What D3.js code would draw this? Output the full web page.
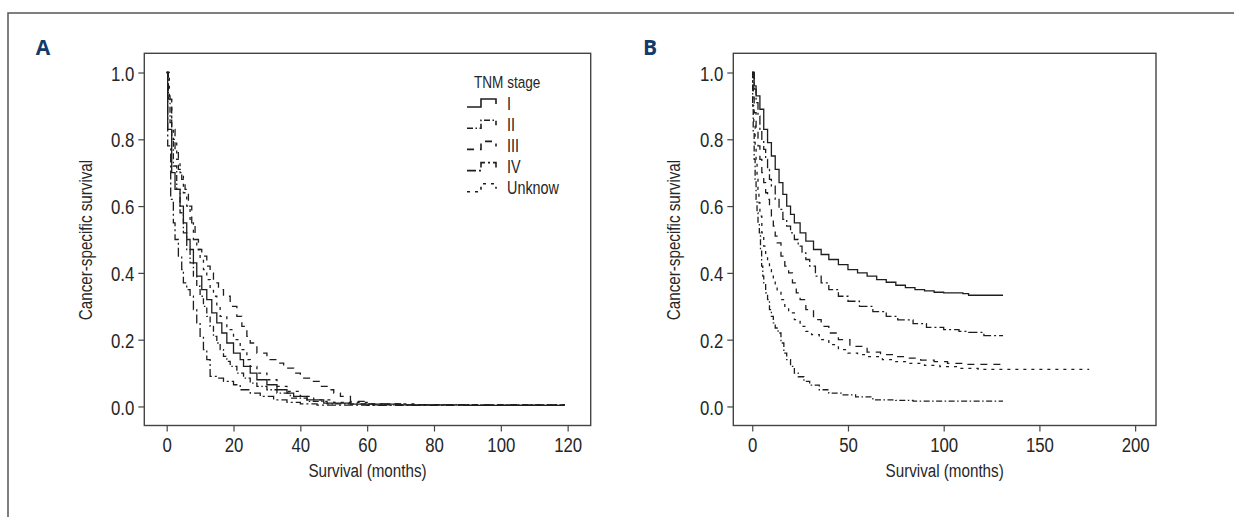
<!DOCTYPE html>
<meta charset="utf-8">
<script src="https://d3js.org/d3.v7.min.js"></script>
<style>
  body { margin: 0; background: #fff; }
  text { font-family: "Liberation Sans", Arial, sans-serif; fill: #262626; }
</style>
<div id="chart"></div>
<script>
// ---- data: [months, survival] step points ----
// Panel A (TNM stage)
var a_I      = [[0,1],[0.3,0.83],[1.5,0.70],[2.5,0.65],[4,0.60],[5,0.55],[6,0.50],[7,0.47],[8,0.43],[9,0.39],[10.5,0.35],[12,0.32],[13.5,0.28],[15,0.25],[16.5,0.22],[18,0.19],[20,0.16],[22,0.14],[23,0.12],[25,0.10],[27,0.08],[30,0.065],[33,0.05],[36,0.04],[38,0.03],[42,0.02],[47,0.01],[55,0.007],[70,0.005],[90,0.003],[119,0.003]];
var a_II     = [[0,1],[0.5,0.93],[1,0.85],[1.5,0.80],[2,0.72],[3,0.65],[4,0.58],[5,0.52],[6,0.47],[7,0.43],[8,0.39],[9,0.36],[10,0.33],[11,0.30],[12,0.27],[13,0.24],[14,0.21],[15,0.19],[16,0.17],[17,0.15],[18,0.135],[19,0.12],[21,0.10],[23,0.085],[25,0.07],[27,0.06],[30,0.05],[33,0.04],[37,0.025],[42,0.015],[48,0.008],[60,0.005],[119,0.003]];
var a_III    = [[0,1],[0.5,0.92],[1.5,0.83],[2.5,0.76],[3.5,0.71],[4.5,0.68],[5.5,0.65],[6.5,0.60],[7.5,0.55],[8.5,0.50],[9.5,0.47],[10.5,0.45],[12,0.42],[13,0.40],[14,0.37],[15.5,0.35],[17,0.33],[19,0.30],[21,0.27],[22.5,0.24],[24,0.21],[25,0.19],[27,0.16],[30,0.14],[33,0.13],[35,0.115],[38,0.10],[40,0.085],[43,0.075],[46,0.06],[48,0.05],[50,0.04],[52,0.03],[55,0.015],[60,0.008],[70,0.005],[119,0.003]];
var a_IV     = [[0,1],[0.3,0.78],[1.2,0.62],[2,0.55],[2.5,0.50],[3.5,0.45],[4.5,0.41],[5,0.37],[6,0.35],[7,0.33],[8,0.29],[9,0.25],[10,0.21],[11,0.17],[12,0.14],[13,0.09],[15,0.085],[17,0.075],[20,0.065],[22,0.05],[25,0.04],[28,0.03],[32,0.02],[36,0.012],[40,0.008],[45,0.004],[60,0.003],[119,0.003]];
var a_Unknow = [[0,1],[0.8,0.92],[1.5,0.84],[2,0.80],[3,0.74],[4,0.70],[5,0.64],[6,0.60],[7,0.55],[8,0.50],[9,0.47],[10,0.44],[11,0.41],[12,0.38],[13,0.35],[14,0.33],[15,0.30],[16,0.27],[18,0.23],[20,0.20],[22,0.17],[24,0.14],[25,0.12],[27,0.10],[30,0.08],[33,0.06],[36,0.045],[40,0.03],[44,0.02],[50,0.012],[60,0.008],[75,0.005],[119,0.003]];

// Panel B
var b_1 = [[0,1],[1,0.96],[2,0.93],[4,0.89],[6,0.83],[8,0.79],[10,0.75],[12,0.71],[14,0.67],[16,0.635],[18,0.60],[20,0.575],[22,0.55],[25,0.52],[28,0.495],[32,0.47],[36,0.455],[40,0.44],[45,0.425],[50,0.41],[55,0.40],[60,0.39],[65,0.38],[70,0.372],[75,0.363],[80,0.356],[85,0.35],[90,0.346],[95,0.342],[100,0.34],[110,0.338],[113,0.333],[131,0.333]];
var b_2 = [[0,1],[1,0.95],[2,0.91],[3,0.87],[4,0.83],[5,0.80],[6,0.77],[7,0.74],[8,0.71],[9,0.68],[10,0.66],[12,0.62],[14,0.59],[16,0.56],[18,0.54],[20,0.52],[22,0.50],[24,0.48],[26,0.46],[28,0.44],[30,0.42],[33,0.39],[36,0.37],[40,0.35],[45,0.33],[50,0.315],[56,0.30],[63,0.284],[70,0.27],[76,0.259],[84,0.248],[91,0.237],[100,0.23],[108,0.225],[113,0.222],[121,0.212],[131,0.212]];
var b_3 = [[0,1],[0.5,0.93],[1,0.88],[2,0.83],[3,0.78],[4,0.74],[5,0.70],[6,0.67],[7,0.64],[8,0.62],[9,0.60],[10,0.57],[11,0.54],[12,0.51],[13,0.49],[15,0.45],[17,0.42],[19,0.40],[21,0.37],[23,0.34],[25,0.32],[28,0.29],[32,0.26],[36,0.24],[40,0.22],[45,0.20],[51,0.18],[60,0.163],[67,0.155],[74,0.149],[80,0.145],[88,0.139],[95,0.134],[102,0.129],[110,0.126],[131,0.126]];
var b_4 = [[0,1],[0.3,0.90],[0.8,0.84],[1.5,0.78],[2,0.73],[2.5,0.69],[3,0.65],[3.5,0.61],[4,0.57],[5,0.52],[6,0.48],[7,0.45],[8,0.43],[9,0.41],[10,0.40],[11,0.38],[12,0.36],[13,0.345],[15,0.32],[17,0.30],[19,0.28],[22,0.26],[25,0.24],[28,0.225],[31,0.215],[35,0.20],[40,0.185],[45,0.17],[50,0.16],[55,0.155],[60,0.149],[68,0.14],[75,0.134],[81,0.129],[90,0.123],[98,0.119],[108,0.114],[118,0.111],[176,0.111]];
var b_5 = [[0,1],[0.2,0.90],[0.5,0.82],[1,0.74],[1.5,0.68],[2,0.62],[2.5,0.58],[3,0.55],[3.7,0.52],[4.3,0.47],[4.9,0.42],[5.5,0.39],[6,0.37],[7,0.34],[8,0.32],[9,0.29],[10,0.27],[11,0.25],[12,0.235],[13.5,0.22],[15,0.19],[16.5,0.16],[18,0.14],[20,0.12],[22,0.10],[24,0.089],[27,0.075],[30,0.064],[35,0.05],[40,0.04],[47,0.035],[54,0.029],[63,0.02],[75,0.018],[84,0.016],[131,0.016]];

var stageNames = ["I", "II", "III", "IV", "Unknow"];
var yTicks = [0, 0.2, 0.4, 0.6, 0.8, 1.0];
var xTicksA = [0, 20, 40, 60, 80, 100, 120];
var xTicksB = [0, 50, 100, 150, 200];

// ---- layout ----
var W = 1234, H = 517;
var SX = 0.8; // horizontal squeeze, the original uses a condensed face
var svg = d3.select("#chart").append("svg").attr("width", W).attr("height", H);

// outer frame (top and left only)
svg.append("path").attr("d", "M8,517 V13 H1234")
  .attr("fill", "none").attr("stroke", "#555").attr("stroke-width", 1.5);

var dashes = {
  solid: null,
  dashdot: "6,2.5,1.5,2.5",
  longdash: "7,6",
  dotdash: "9,3,2,3",
  dotted: "3,5"
};

// condensed text helper
function ctext(g, x, y, size, str, anchor, rot) {
  return g.append("text")
    .attr("transform", "translate(" + x + "," + y + ")" + (rot ? " rotate(" + rot + ")" : "") + " scale(" + SX + ",1)")
    .attr("text-anchor", anchor || "start")
    .attr("font-size", size + "px")
    .text(str);
}

function panel(opts) {
  var x = d3.scaleLinear().domain(opts.xDomain).range([opts.left, opts.right]);
  var y = d3.scaleLinear().domain([-0.057, 1.0575]).range([425.5, 53.3]);
  var g = svg.append("g");

  // box
  g.append("rect").attr("x", opts.left).attr("y", 53.3)
    .attr("width", opts.right - opts.left).attr("height", 425.5 - 53.3)
    .attr("fill", "none").attr("stroke", "#444").attr("stroke-width", 1.4);

  var yAxis = g.append("g").attr("transform", "translate(" + opts.left + ",0)")
    .call(d3.axisLeft(y).tickValues(yTicks).tickFormat(d3.format(".1f")).tickSize(6).tickSizeOuter(0));
  var xAxis = g.append("g").attr("transform", "translate(0,425.5)")
    .call(d3.axisBottom(x).tickValues(opts.xTicks).tickFormat(d3.format("d")).tickSize(6).tickSizeOuter(0));
  [yAxis, xAxis].forEach(function (ax) {
    ax.select(".domain").remove();
    ax.selectAll("line").attr("stroke", "#444").attr("stroke-width", 1.2);
    ax.selectAll("text").attr("font-size", "21px").attr("fill", "#262626")
      .style("font-family", "'Liberation Sans', Arial, sans-serif")
      .attr("transform", "scale(" + SX + ",1)");
  });
  yAxis.selectAll("text").attr("x", -10 / SX).attr("dy", "0.36em");
  xAxis.selectAll("text").attr("y", 10).attr("dy", "0.8em");

  var line = d3.line().curve(d3.curveStepAfter)
    .x(function (d) { return x(d[0]); })
    .y(function (d) { return y(d[1]); });

  opts.curves.forEach(function (c) {
    g.append("path").datum(c.data)
      .attr("d", line)
      .attr("fill", "none")
      .attr("stroke", "#1e1e1e")
      .attr("stroke-width", 1.3)
      .attr("stroke-dasharray", dashes[c.style]);
  });

  // titles
  var cx = (opts.left + opts.right) / 2;
  ctext(g, cx, 477, 19, "Survival (months)", "middle");
  ctext(g, opts.yTitleX, 240, 19, "Cancer-specific survival", "middle", -90);
  g.append("text").attr("x", opts.labelX).attr("y", 55).attr("text-anchor", "middle")
    .attr("font-size", "21px").attr("font-weight", "bold").style("fill", "#123a6b")
    .style("font-family", "'Open Sans', sans-serif").text(opts.label);
  return g;
}

var curvesA = [
  { name: "I", data: a_I, style: "solid" },
  { name: "II", data: a_II, style: "dashdot" },
  { name: "III", data: a_III, style: "longdash" },
  { name: "IV", data: a_IV, style: "dotdash" },
  { name: "Unknow", data: a_Unknow, style: "dotted" }
];

var gA = panel({
  left: 144.3, right: 590.7, xDomain: [-6.7, 126.9], xTicks: xTicksA,
  yTitleX: 92, labelX: 43, label: "A", curves: curvesA
});

panel({
  left: 733.3, right: 1156, xDomain: [-9.9, 210.9], xTicks: xTicksB,
  yTitleX: 680, labelX: 650, label: "B",
  curves: [
    { data: b_1, style: "solid" },
    { data: b_2, style: "dotdash" },
    { data: b_3, style: "longdash" },
    { data: b_4, style: "dotted" },
    { data: b_5, style: "dashdot" }
  ]
});

// legend for panel A
var leg = gA.append("g");
ctext(leg, 474, 88, 17, "TNM stage");
stageNames.forEach(function (s, i) {
  var cy = 103 + i * 21.2;
  var c = curvesA.filter(function (d) { return d.name === s; })[0];
  leg.append("path")
    .attr("d", "M467," + (cy + 4) + " H481 V" + (cy - 4) + " H496 V" + (cy + 1))
    .attr("fill", "none").attr("stroke", "#1e1e1e").attr("stroke-width", 1.6)
    .attr("stroke-dasharray", dashes[c.style]);
  ctext(leg, 507, cy + 6.5, 18, s);
});
</script>
